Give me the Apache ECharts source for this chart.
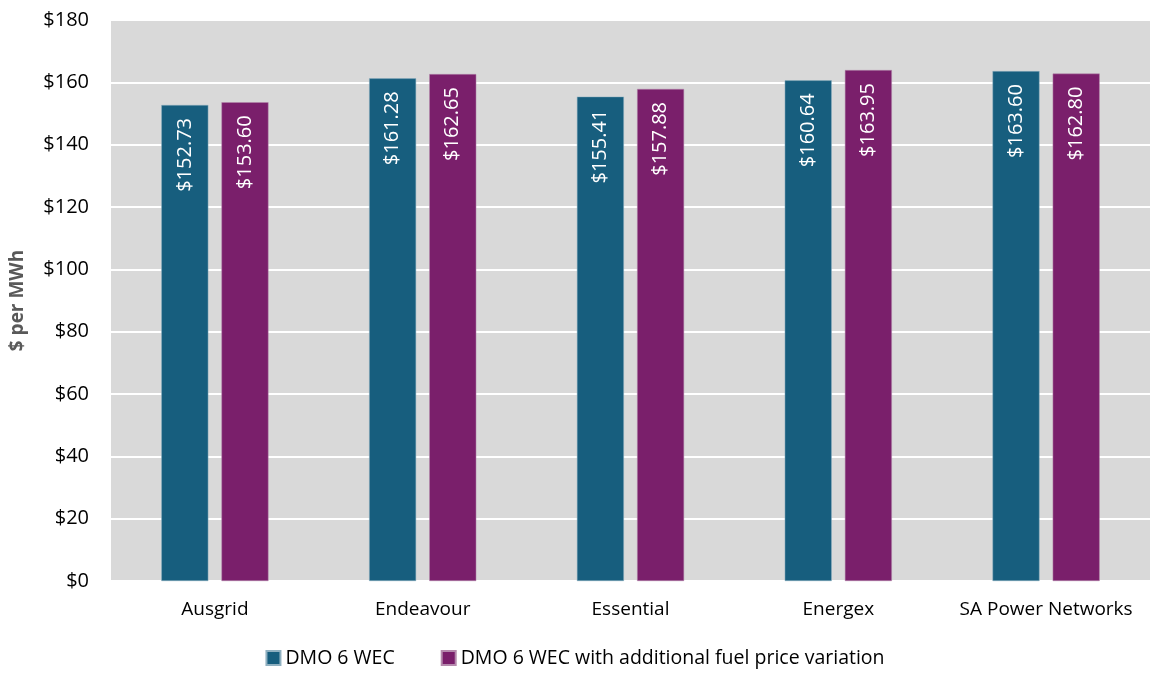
<!DOCTYPE html>
<html><head><meta charset="utf-8">
<script src="https://cdn.jsdelivr.net/npm/echarts@6/dist/echarts.min.js"></script>
<style>html,body{margin:0;padding:0;background:#fff}#c{width:1150px;height:673px}</style>
</head><body><div id="c"></div>
<script>
const categories = ['Ausgrid','Endeavour','Essential','Energex','SA Power Networks'];
const seriesNames = ['DMO 6 WEC','DMO 6 WEC with additional fuel price variation'];
const dmo6 = [152.73, 161.28, 155.41, 160.64, 163.60];
const dmo6Fuel = [153.60, 162.65, 157.88, 163.95, 162.80];
const yTicks = {min: 0, max: 180, interval: 20};
const font = '"Open Sans", "Noto Sans", sans-serif';
const chart = echarts.init(document.getElementById('c'));
const lbl = {
  show: true, position: 'insideTop', rotate: 90, align: 'right', verticalAlign: 'middle',
  distance: 13, color: '#fff', fontSize: 20, fontFamily: font,
  formatter: p => '$' + p.value.toFixed(2)
};
chart.setOption({
  animation: false,
  textStyle: {fontFamily: font},
  grid: {left: 110, right: 0, top: 20, bottom: 92, show: true, backgroundColor: '#d9d9d9', borderWidth: 0},
  legend: {
    bottom: 0, left: 'center', itemWidth: 14, itemHeight: 14, itemGap: 46, icon: 'rect',
    textStyle: {fontSize: 19.5, color: '#000', fontFamily: font},
    data: seriesNames
  },
  xAxis: {
    type: 'category', data: categories,
    axisLine: {show: false}, axisTick: {show: false},
    axisLabel: {interval: 0, fontSize: 19, color: '#000', margin: 19, fontFamily: font}
  },
  yAxis: {
    type: 'value', min: yTicks.min, max: yTicks.max, interval: yTicks.interval,
    name: '$ per MWh', nameLocation: 'middle', nameGap: 84,
    nameTextStyle: {fontSize: 19, fontWeight: 'bold', color: '#595959', fontFamily: font},
    axisLabel: {fontSize: 20, color: '#000', margin: 22, formatter: v => '$' + v, fontFamily: font},
    splitLine: {lineStyle: {color: '#ffffff', width: 2}},
    axisLine: {show: false}, axisTick: {show: false}
  },
  series: [
    {name: seriesNames[0], type: 'bar', data: dmo6, barWidth: 47, barGap: '28%',
     itemStyle: {color: '#175e7e', borderColor: '#8fb0c0', borderWidth: 0.5}, label: lbl},
    {name: seriesNames[1], type: 'bar', data: dmo6Fuel, barWidth: 47,
     itemStyle: {color: '#7a1f6b', borderColor: '#b58aad', borderWidth: 0.5}, label: lbl}
  ]
});
</script></body></html>
